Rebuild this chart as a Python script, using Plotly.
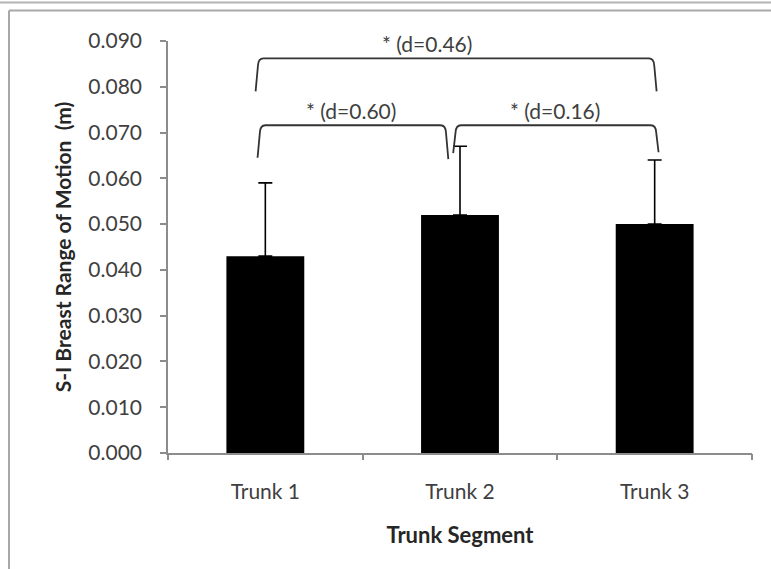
import plotly.graph_objects as go

# Data
segments = ["Trunk 1", "Trunk 2", "Trunk 3"]
rom_mean = [0.043, 0.052, 0.050]
rom_sd = [0.016, 0.015, 0.014]

# Pairwise comparisons: bracket ends (x), bracket top, leg feet and effect-size labels
comp_left = [-0.05, -0.04, 0.965]
comp_right = [2.01, 0.94, 2.02]
comp_top = [0.0862, 0.0716, 0.0716]
comp_left_foot = [0.0790, 0.0645, 0.0655]
comp_right_foot = [0.0790, 0.0642, 0.0657]
comp_label = ["* (d=0.46)", "* (d=0.60)", "* (d=0.16)"]
comp_label_x = [0.83, 0.44, 1.49]
comp_label_y = [0.0895, 0.0749, 0.0749]

FONT = "Lato, Carlito, Calibri, sans-serif"
TXT = "#404040"
AX = "#8c8c8c"

W, H = 771, 569
L, R, T, B = 168, 19, 41, 116

fig = go.Figure()
fig.add_trace(go.Bar(
    x=[0, 1, 2], y=rom_mean, width=0.4,
    marker=dict(color="black", line=dict(width=0)),
    error_y=dict(type="data", array=rom_sd, symmetric=False, arrayminus=[0, 0, 0],
                 color="black", thickness=1.6, width=7),
    showlegend=False, hoverinfo="skip",
))

shapes = []
# significance brackets with rounded shoulders
rx, ry = 0.04, 0.0016
for x0, x1, yt, yl, yr in zip(comp_left, comp_right, comp_top, comp_left_foot, comp_right_foot):
    path = (f"M {x0},{yl} L {x0 + 0.012},{yt - ry} "
            f"Q {x0 + 0.014},{yt} {x0 + rx},{yt} "
            f"L {x1 - rx},{yt} "
            f"Q {x1 - 0.014},{yt} {x1 - 0.012},{yt - ry} "
            f"L {x1},{yr}")
    shapes.append(dict(type="path", xref="x", yref="y", path=path,
                       line=dict(color="#333333", width=1.8)))

# outer frame (page pixels converted to paper units)
def px(xp):
    return (xp - L) / (W - L - R)

def py(yp):
    return (H - B - yp) / (H - T - B)

shapes.append(dict(type="line", xref="paper", yref="paper",
                   x0=px(0), x1=px(W), y0=py(2.5), y1=py(2.5),
                   line=dict(color="#b4b4b4", width=2)))
shapes.append(dict(type="line", xref="paper", yref="paper",
                   x0=px(9), x1=px(W), y0=py(10.5), y1=py(10.5),
                   line=dict(color="#a8a8a8", width=2)))
shapes.append(dict(type="line", xref="paper", yref="paper",
                   x0=px(9), x1=px(9), y0=py(10.5), y1=py(H),
                   line=dict(color="#a8a8a8", width=2)))

annotations = []
for lab, lx, ly in zip(comp_label, comp_label_x, comp_label_y):
    annotations.append(dict(x=lx, y=ly, xref="x", yref="y", text=lab, showarrow=False,
                            font=dict(family=FONT, size=21, color=TXT)))

fig.update_layout(
    width=W, height=H,
    margin=dict(l=L, r=R, t=T, b=B),
    paper_bgcolor="white", plot_bgcolor="white",
    font=dict(family=FONT, color=TXT),
    shapes=shapes, annotations=annotations,
    xaxis=dict(
        range=[-0.5, 2.5], tickmode="array", tickvals=[0, 1, 2], ticktext=segments,
        ticks="", showline=True, linecolor=AX, linewidth=1.5,
        showgrid=False, zeroline=False, ticklabelstandoff=19,
        tickfont=dict(family=FONT, size=21, color=TXT),
        title=dict(text="<b>Trunk Segment</b>", font=dict(family=FONT, size=22, color="#262626"),
                   standoff=26),
    ),
    xaxis2=dict(
        overlaying="x", anchor="y", side="bottom", range=[-0.5, 2.5],
        tickmode="array", tickvals=[-0.5, 0.5, 1.5, 2.5], showticklabels=False,
        ticks="outside", ticklen=6, tickcolor=AX, tickwidth=1.5,
        showline=False, showgrid=False, zeroline=False,
    ),
    yaxis=dict(
        range=[0, 0.09], dtick=0.01, tickformat=".3f",
        ticks="outside", ticklen=6, tickcolor=AX, tickwidth=1.5,
        showline=True, linecolor=AX, linewidth=1.5,
        showgrid=False, zeroline=False, ticklabelstandoff=14,
        tickfont=dict(family=FONT, size=21, color=TXT),
        title=dict(text="<b>S-I Breast Range of Motion  (m)</b>",
                   font=dict(family=FONT, size=21, color="#262626"), standoff=11),
    ),
)
# invisible trace so the boundary tick axis is drawn
fig.add_trace(go.Scatter(x=[-0.5], y=[0], xaxis="x2", mode="markers",
                         marker=dict(opacity=0), showlegend=False, hoverinfo="skip"))

fig.write_html("out.html")
